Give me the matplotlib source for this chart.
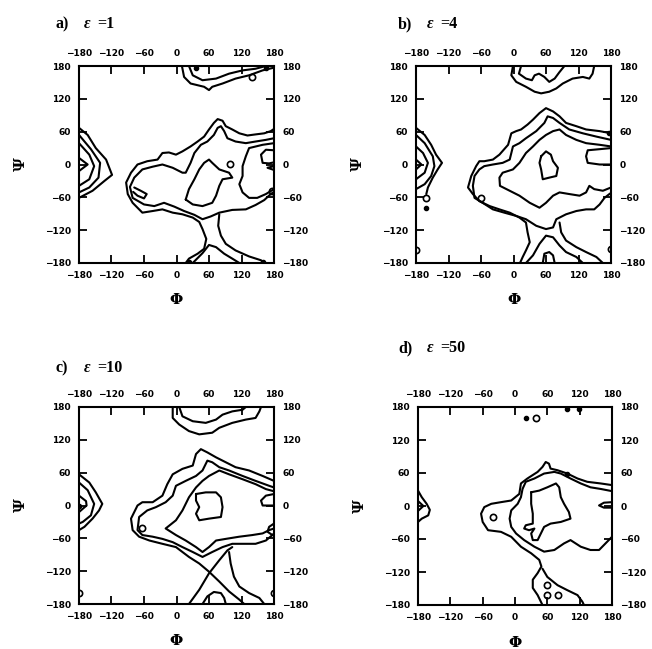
import matplotlib
matplotlib.use("Agg")
import matplotlib.pyplot as plt

plt.rcParams['font.family'] = ['DejaVu Sans']
plt.rcParams['font.weight'] = 'bold'

# ---------------- data ----------------
tick_values = [-180, -120, -60, 0, 60, 120, 180]
tick_labels = ["\u2212180", "\u2212120", "\u221260", "0", "60", "120", "180"]
panel_letters = ["a)", "b)", "c)", "d)"]
panel_values = ["=1", "=4", "=10", "=50"]
eps_symbol = "\u03b5"
x_label = "\u03a6"
y_label = "\u03a8"

# contour lines (phi, psi)
contours_a = [
    [(-180, 67), (-164, 54), (-149, 30), (-130, 9), (-119, -19), (-133, -30), (-155, -48), (-180, -61)],
    [(-180, 54), (-158, 28), (-141, 3), (-144, -24), (-161, -42), (-180, -51)],
    [(-180, 39), (-161, 18), (-152, -3), (-161, -27), (-180, -39)],
    [(-180, 12), (-164, 0), (-180, -12)],
    [(10, 180), (14, 160), (26, 148), (51, 142), (60, 136), (66, 142), (85, 148), (109, 157), (134, 163), (159, 172), (180, 177)],
    [(23, 180), (30, 163), (48, 154), (73, 157), (97, 166), (122, 172), (146, 175), (165, 180)],
    [(180, 65), (174, 61), (162, 57), (146, 55), (131, 53), (116, 57), (103, 64), (91, 70), (85, 80), (76, 83), (69, 76),
     (60, 64), (51, 51), (39, 42), (26, 33), (11, 24), (-1, 18), (-14, 22), (-26, 21), (-35, 9), (-54, 6), (-72, 0),
     (-84, -15), (-93, -33), (-90, -54), (-81, -70), (-63, -88), (-44, -85), (-26, -82), (-7, -88), (11, -91), (30, -97),
     (42, -105), (48, -118), (55, -136), (51, -154), (39, -163), (23, -172), (17, -180)],
    [(180, 48), (165, 45), (146, 42), (128, 39), (109, 42), (94, 48), (88, 61), (82, 70), (76, 67), (69, 54), (57, 42),
     (45, 36), (33, 21), (26, 3), (17, -15), (11, -15), (-7, -6), (-26, 0), (-44, -4), (-63, -9), (-78, -24), (-86, -41),
     (-81, -61), (-60, -73), (-41, -76), (-23, -70), (-4, -77), (14, -85), (33, -92), (48, -100), (63, -95), (79, -88),
     (103, -83), (128, -82), (146, -74), (162, -65), (174, -54), (180, -50)],
    [(-78, -42), (-66, -48), (-55, -54), (-60, -62), (-72, -57), (-80, -50)],
    [(79, -91), (77, -112), (82, -130), (91, -145), (109, -157), (134, -168), (156, -175), (162, -180)],
    [(30, -180), (48, -162), (60, -147), (73, -151), (88, -163), (103, -172), (116, -180)],
    [(17, -64), (23, -45), (33, -27), (42, -9), (51, 3), (60, 9), (66, 3), (79, -9), (97, -15), (103, -24), (85, -27),
     (79, -39), (73, -57), (66, -70), (48, -76), (30, -73), (17, -64)],
    [(180, 39), (159, 36), (134, 30), (128, 15), (122, -3), (122, -21), (116, -36), (122, -51), (134, -61), (149, -61),
     (165, -54), (180, -45)],
    [(180, 26), (165, 27), (156, 18), (159, 3), (171, 2), (180, 4)],
    [(180, -3), (168, -6), (180, -10)],
]
open_circles_a = [(99, 1), (140, 160), (176, -48)]
dots_a = [(23, -178), (159, -178), (165, 177), (36, 177)]

contours_b = [
    [(-180, 67), (-164, 54), (-152, 36), (-143, 18), (-132, 3), (-140, -9), (-149, -24), (-158, -42), (-161, -54)],
    [(-180, 54), (-164, 39), (-149, 15), (-146, -3), (-152, -21), (-164, -36), (-180, -45)],
    [(-180, 33), (-167, 21), (-158, 3), (-164, -15), (-180, -27)],
    [(-180, 9), (-170, 0), (-180, -9)],
    [(-1, 180), (-4, 163), (5, 151), (23, 142), (39, 133), (51, 130), (66, 133), (79, 139), (91, 148), (109, 157),
     (128, 160), (140, 157), (146, 166), (149, 180)],
    [(14, 180), (10, 166), (23, 157), (34, 154), (39, 163), (47, 166), (57, 160), (66, 151), (76, 157), (85, 169), (94, 180)],
    [(180, 57), (159, 61), (134, 64), (116, 70), (97, 76), (85, 88), (73, 97), (60, 103), (48, 94), (36, 82), (26, 73),
     (14, 64), (5, 61), (-4, 57), (-10, 36), (-26, 18), (-38, 9), (-54, 6), (-63, 6), (-69, -3), (-78, -21), (-84, -42),
     (-75, -54), (-63, -67), (-44, -76), (-26, -82), (-7, -88), (11, -97), (23, -106), (26, -124), (30, -142), (23, -157),
     (17, -169), (12, -180)],
    [(180, 45), (153, 51), (128, 57), (103, 64), (85, 76), (73, 85), (63, 88), (57, 76), (42, 61), (23, 48), (11, 39),
     (-1, 33), (-7, 9), (-20, 3), (-38, 0), (-54, -3), (-63, -9), (-72, -21), (-75, -39), (-72, -61), (-57, -70),
     (-38, -82), (-17, -88), (5, -94), (23, -100), (42, -112), (60, -118), (73, -115), (79, -100), (97, -91), (116, -85),
     (134, -82), (149, -82), (159, -73), (168, -61), (177, -54), (180, -52)],
    [(85, -106), (88, -124), (97, -139), (116, -151), (134, -160), (153, -169), (165, -180)],
    [(23, -180), (36, -166), (48, -145), (60, -130), (73, -133), (85, -148), (97, -160), (116, -169), (128, -180)],
    [(54, -180), (57, -163), (66, -160), (73, -166), (76, -180)],
    [(180, 33), (159, 36), (134, 39), (116, 45), (97, 54), (85, 64), (73, 61), (60, 54), (48, 45), (36, 33), (23, 21),
     (11, 3), (-1, -9), (-20, -15), (-26, -24), (-25, -39), (-7, -48), (11, -57), (30, -70), (48, -79), (60, -70),
     (73, -57), (85, -51), (103, -54), (122, -57), (134, -51), (140, -39), (149, -45), (165, -48), (180, -42)],
    [(51, 15), (60, 24), (69, 18), (73, 6), (82, -6), (79, -21), (66, -24), (54, -27), (51, -9), (48, 3), (51, 15)],
    [(180, 30), (159, 28), (137, 26), (134, 15), (137, 3), (159, 0), (180, 0)],
]
open_circles_b = [(-161, -61), (-60, -61), (-180, -157), (180, -154)]
dots_b = [(-161, -80), (176, 58)]

contours_c = [
    [(-180, 57), (-161, 42), (-149, 24), (-137, 3), (-143, -9), (-155, -24), (-170, -39), (-180, -45)],
    [(-180, 42), (-164, 28), (-152, 3), (-158, -18), (-173, -30), (-180, -33)],
    [(-180, 18), (-167, 8), (-166, 0), (-180, -12)],
    [(-7, 180), (-7, 160), (5, 148), (23, 136), (42, 130), (66, 133), (79, 142), (103, 151), (128, 157), (146, 160),
     (153, 172), (156, 180)],
    [(5, 180), (11, 163), (30, 154), (54, 151), (73, 157), (85, 166), (103, 172), (122, 175), (128, 180)],
    [(180, 45), (159, 54), (134, 64), (109, 70), (91, 79), (73, 88), (57, 97), (45, 103), (36, 94), (30, 73), (11, 67),
     (-7, 57), (-17, 39), (-26, 18), (-44, 6), (-63, 6), (-72, 0), (-84, -24), (-81, -45), (-69, -57), (-50, -64),
     (-26, -70), (-1, -76), (23, -94), (42, -106), (60, -121), (79, -139), (97, -157), (116, -172), (125, -180)],
    [(180, 33), (171, 36), (146, 45), (122, 54), (97, 64), (79, 70), (66, 79), (57, 82), (48, 64), (36, 54), (17, 45),
     (-1, 36), (-7, 18), (-20, 6), (-38, -3), (-54, -9), (-69, -21), (-72, -45), (-63, -54), (-44, -57), (-26, -61),
     (-7, -67), (11, -76), (30, -85), (48, -94), (66, -85), (85, -76), (103, -70), (122, -70), (146, -70), (165, -64),
     (177, -54), (180, -51)],
    [(23, -180), (42, -154), (60, -124), (79, -100), (94, -82), (103, -76)],
    [(97, -85), (100, -106), (106, -130), (116, -148), (134, -160), (153, -169), (162, -180)],
    [(48, -180), (57, -166), (69, -158), (82, -160), (88, -169), (91, -180)],
    [(180, 26), (165, 30), (146, 39), (122, 48), (97, 57), (79, 64), (60, 54), (48, 45), (36, 33), (23, 15), (11, -9),
     (-1, -27), (-20, -42), (-1, -54), (17, -64), (36, -76), (48, -85), (60, -76), (73, -64), (91, -61), (116, -57),
     (140, -54), (159, -51), (171, -45), (180, -42)],
    [(36, 21), (54, 24), (73, 24), (82, 15), (85, -3), (82, -21), (60, -24), (42, -27), (36, -15), (42, -3), (36, 9), (36, 21)],
    [(180, 21), (165, 18), (156, 9), (159, 0), (180, 0)],
    [(180, -33), (171, -39), (168, -48), (177, -54)],
]
open_circles_c = [(-63, -42), (-180, -160), (180, -160)]
dots_c = [(-180, 0)]

contours_d = [
    [(-180, 28), (-173, 16), (-164, 4), (-158, -7), (-161, -17), (-173, -23), (-180, -29)],
    [(-180, 9), (-170, 0), (-180, -9)],
    [(180, 38), (159, 41), (134, 44), (116, 50), (97, 59), (79, 65), (66, 68), (63, 77), (57, 80), (51, 71), (42, 62),
     (23, 50), (11, 41), (8, 22), (-7, 10), (-26, 7), (-44, 4), (-57, -2), (-63, -14), (-60, -29), (-50, -44), (-26, -47),
     (-7, -56), (11, -74), (30, -86), (45, -98), (49, -110), (42, -122), (33, -134), (33, -149), (42, -162), (51, -180)],
    [(51, -114), (60, -129), (79, -144), (97, -153), (116, -162), (125, -174), (128, -180)],
    [(180, 27), (159, 31), (140, 34), (122, 41), (103, 50), (85, 59), (73, 62), (54, 59), (36, 50), (20, 44), (14, 31),
     (11, 16), (5, 4), (-7, -8), (-10, -23), (-7, -38), (2, -50), (17, -62), (36, -74), (54, -83), (73, -80), (91, -68),
     (103, -62), (122, -74), (140, -80), (156, -80), (168, -68), (180, -56)],
    [(30, 25), (45, 28), (60, 34), (76, 41), (82, 34), (85, 16), (91, 4), (100, -11), (103, -23), (85, -29), (66, -32),
     (54, -38), (48, -50), (42, -62), (33, -62), (30, -50), (36, -41), (26, -44), (17, -41), (20, -35), (33, -32),
     (33, -14), (30, 4), (30, 25)],
    [(180, 7), (165, 6), (156, 1), (165, -3), (180, -3)],
]
open_circles_d = [(-41, -20), (39, 160), (59, -144), (59, -161), (79, -162)]
dots_d = [(20, 160), (97, 177), (119, 177), (97, 58)]

panels = [
    (contours_a, open_circles_a, dots_a),
    (contours_b, open_circles_b, dots_b),
    (contours_c, open_circles_c, dots_c),
    (contours_d, open_circles_d, dots_d),
]

# ---------------- layout ----------------
W, H = 652, 649
fig = plt.figure(figsize=(W / 100, H / 100), dpi=100)
boxes = [(79, 66, 274, 263), (416, 66, 611, 263), (79, 407, 274, 604), (418, 407, 612, 605)]
title_pos = [(55, 24), (398, 24), (55, 368), (398, 348)]

for i, (cont, opens, dots) in enumerate(panels):
    l, t, r, b = boxes[i]
    ax = fig.add_axes([l / W, 1 - b / H, (r - l) / W, (b - t) / H])
    for line in cont:
        xs = [p[0] for p in line]
        ys = [p[1] for p in line]
        ax.plot(xs, ys, color='black', lw=1.5, solid_joinstyle='round', solid_capstyle='round')
    if opens:
        ax.plot([p[0] for p in opens], [p[1] for p in opens], linestyle='none', marker='o',
                markersize=4.5, markerfacecolor='none', markeredgecolor='black', markeredgewidth=1.2)
    if dots:
        ax.plot([p[0] for p in dots], [p[1] for p in dots], linestyle='none', marker='o',
                markersize=3, color='black')
    ax.set_xlim(-180, 180)
    ax.set_ylim(-180, 180)
    ax.set_xticks(tick_values)
    ax.set_yticks(tick_values)
    ax.set_xticklabels(tick_labels)
    ax.set_yticklabels(tick_labels)
    ax.tick_params(direction='in', length=6, width=1.3, top=True, right=True,
                   labeltop=True, labelright=True, labelsize=6.5, pad=6)
    for s in ax.spines.values():
        s.set_linewidth(1.5)
    ax.text(0.5, -0.19, x_label, transform=ax.transAxes, ha='center', va='center',
            fontsize=11, family='DejaVu Serif', fontweight='bold')
    ax.text(-0.30, 0.5, y_label, transform=ax.transAxes, ha='center', va='center',
            fontsize=11, family='DejaVu Serif', fontweight='bold', rotation=90)
    tx, ty = title_pos[i]
    fig.text(tx / W, 1 - ty / H, panel_letters[i], ha='left', va='center',
             fontsize=11.5, family='Liberation Serif', fontweight='bold')
    fig.text((tx + 29) / W, 1 - ty / H, eps_symbol, ha='left', va='center',
             fontsize=11.5, family='Liberation Serif', fontweight='bold', style='italic')
    fig.text((tx + 42) / W, 1 - ty / H, panel_values[i], ha='left', va='center',
             fontsize=11.5, family='Liberation Serif', fontweight='bold')

fig.savefig("out.png", dpi=100)
